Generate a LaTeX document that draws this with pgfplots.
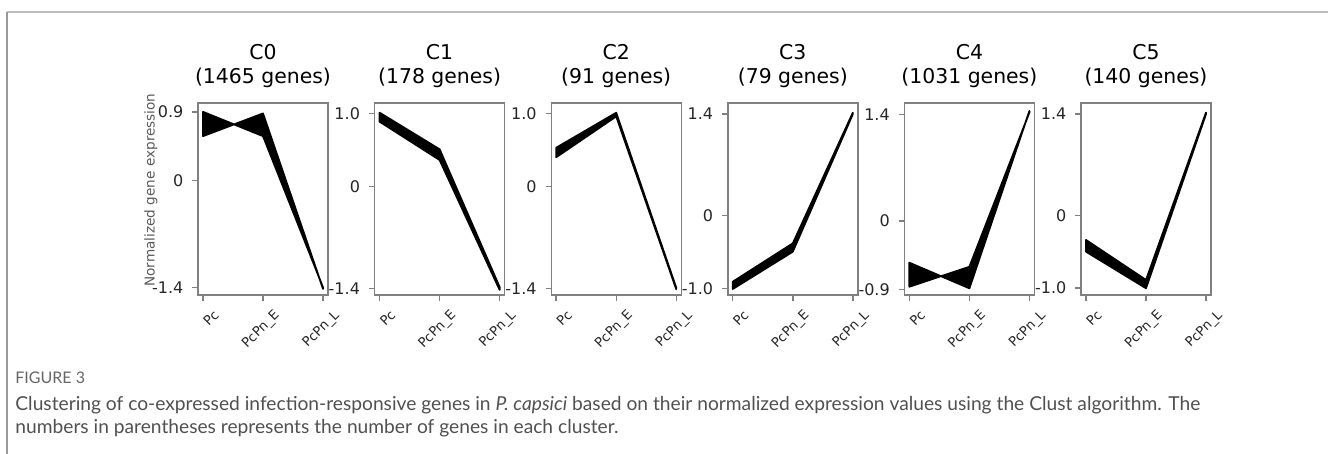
\documentclass[border=0pt]{standalone}
\usepackage{fontspec}
\setmainfont{DejaVu Sans}
\newfontfamily\capfont{Lato}
\usepackage{pgfplots}
\pgfplotsset{compat=1.18}
\definecolor{framegray}{HTML}{BDBDBD}
\definecolor{frameleft}{HTML}{9A9A9A}
\definecolor{axgray}{HTML}{808080}
\definecolor{captxt}{HTML}{505050}
\pgfplotsset{
  panel/.style={
    scale only axis, width=65pt, height=96pt,
    anchor=south west,
    xmin=-0.083, xmax=2.083,
    xtick={0,1,2}, xticklabels={Pc,PcPn\_E,PcPn\_L},
    tick align=outside, major tick length=2.8pt,
    tick pos=left,
    axis line style={axgray, line width=0.7pt},
    every tick/.style={axgray, line width=0.7pt},
    /pgf/number format/assume math mode=true,
    yticklabel style={font=\fontsize{8}{9}\selectfont, text=black!85, xshift=-1pt},
    xticklabel style={font=\fontsize{6.6}{7}\selectfont, rotate=45, anchor=north east, text=black!85, xshift=4pt, yshift=-3pt},
    title style={font=\fontsize{10.2}{12}\selectfont, align=center, at={(0.5,1)}, anchor=south, inner sep=0pt, yshift=1.6pt},
  },
  band/.style={fill=black, draw=black, line width=0.9pt, line join=round},
}
\begin{document}
\begin{tikzpicture}
\path[use as bounding box] (0,0) rectangle (664pt,227pt);
\draw[framegray, line width=0.8pt] (3.35pt,221pt) -- (664pt,221pt);
\draw[frameleft, line width=0.8pt] (3.35pt,221pt) -- (3.35pt,0pt);

% C0
\begin{axis}[panel, at={(99pt,79.5pt)}, ymin=-1.50, ymax=1.02,
  ytick={-1.4,0,0.9}, yticklabels={-1.4,0,0.9},
  title={C0\\(1465 genes)},
  ylabel={Normalized gene expression},
  ylabel style={at={(axis description cs:-0.362,0.547)}, anchor=center, font=\fontsize{6.8}{8}\selectfont, text=black!65}]
\addplot[band] coordinates {(0,0.904) (1,0.585) (2,-1.40) (2,-1.42) (1,0.883) (0,0.585)} -- cycle;
\end{axis}

% C1
\begin{axis}[panel, at={(187.3pt,79.5pt)}, ymin=-1.490, ymax=1.144,
  ytick={-1.4,0,1.0}, yticklabels={-1.4,0,1.0},
  title={C1\\(178 genes)}]
\addplot[band] coordinates {(0,1.011) (1,0.509) (2,-1.38) (2,-1.42) (1,0.362) (0,0.888)} -- cycle;
\end{axis}

% C2
\begin{axis}[panel, at={(275.6pt,79.5pt)}, ymin=-1.490, ymax=1.144,
  ytick={-1.4,0,1.0}, yticklabels={-1.4,0,1.0},
  title={C2\\(91 genes)}]
\addplot[band] coordinates {(0,0.53) (1,1.01) (2,-1.39) (2,-1.41) (1,0.96) (0,0.40)} -- cycle;
\end{axis}

% C3
\begin{axis}[panel, at={(363.9pt,79.5pt)}, ymin=-1.093, ymax=1.554,
  ytick={-1.0,0,1.4}, yticklabels={-1.0,0,1.4},
  title={C3\\(79 genes)}]
\addplot[band] coordinates {(0,-0.91) (1,-0.381) (2,1.42) (2,1.40) (1,-0.496) (0,-1.01)} -- cycle;
\end{axis}

% C4
\begin{axis}[panel, at={(452.2pt,79.5pt)}, ymin=-0.974, ymax=1.554,
  ytick={-0.9,0,1.4}, yticklabels={-0.9,0,1.4},
  title={C4\\(1031 genes)}]
\addplot[band] coordinates {(0,-0.549) (1,-0.886) (2,1.45) (2,1.43) (1,-0.602) (0,-0.865)} -- cycle;
\end{axis}

% C5
\begin{axis}[panel, at={(540.5pt,79.5pt)}, ymin=-1.097, ymax=1.552,
  ytick={-1.0,0,1.4}, yticklabels={-1.0,0,1.4},
  title={C5\\(140 genes)}]
\addplot[band] coordinates {(0,-0.338) (1,-0.89) (2,1.42) (2,1.40) (1,-1.004) (0,-0.499)} -- cycle;
\end{axis}

\node[anchor=west, inner sep=0pt, text=black!60, font=\capfont\fontsize{8}{9}\selectfont] at (7.5pt,38pt) {FIGURE 3};
\node[anchor=west, inner sep=0pt, text=captxt, font=\capfont\fontsize{9.6}{11}\selectfont] at (7.5pt,24.5pt) {Clustering of co-expressed infection-responsive genes in \textit{P. capsici} based on their normalized expression values using the Clust algorithm. The};
\node[anchor=west, inner sep=0pt, text=captxt, font=\capfont\fontsize{9.6}{11}\selectfont] at (7.5pt,13pt) {numbers in parentheses represents the number of genes in each cluster.};
\end{tikzpicture}
\end{document}
